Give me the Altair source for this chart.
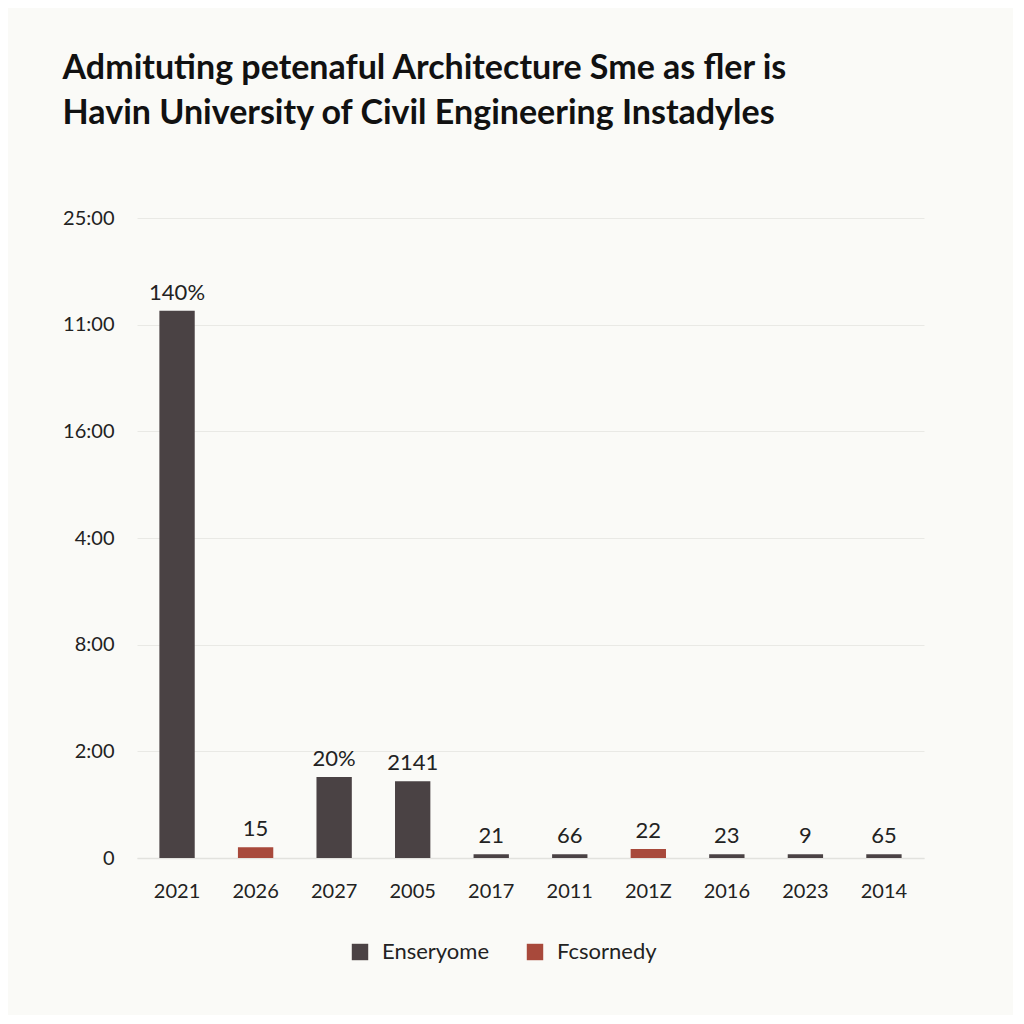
import altair as alt
import pandas as pd

years = ["2021", "2026", "2027", "2005", "2017", "2011", "201Z", "2016", "2023", "2014"]
values = [5.13, 0.10, 0.76, 0.72, 0.035, 0.035, 0.085, 0.035, 0.035, 0.035]
series = ["Enseryome", "Fcsornedy", "Enseryome", "Enseryome", "Enseryome",
          "Enseryome", "Fcsornedy", "Enseryome", "Enseryome", "Enseryome"]
bar_labels = ["140%", "15", "20%", "2141", "21", "66", "22", "23", "9", "65"]
y_tick_labels = ["0", "2:00", "8:00", "4:00", "16:00", "11:00", "25:00"]
series_names = ["Enseryome", "Fcsornedy"]
series_colors = ["#4a4244", "#a8493b"]

df = pd.DataFrame({"year": years, "value": values, "series": series, "label": bar_labels})

label_array = "[" + ",".join("'" + t + "'" for t in y_tick_labels) + "]"

x = alt.X("year:N", sort=None, title=None,
          scale=alt.Scale(paddingInner=0.55, paddingOuter=0.285),
          axis=alt.Axis(labelAngle=0, labelPadding=23, ticks=False, domain=True,
                        domainColor="#e2e2de", domainWidth=1.5))
y = alt.Y("value:Q", title=None,
          scale=alt.Scale(domain=[0, 6], nice=False),
          axis=alt.Axis(values=[0, 1, 2, 3, 4, 5, 6], labelExpr=label_array + "[datum.value]",
                        ticks=False, domain=False, labelPadding=23,
                        gridColor="#e9e9e5", gridWidth=1.2))

bars = alt.Chart(df).mark_bar().encode(
    x=x, y=y,
    color=alt.Color("series:N", title=None,
                    scale=alt.Scale(domain=series_names, range=series_colors),
                    legend=alt.Legend(orient="none", legendX=212, legendY=723,
                                      direction="horizontal",
                                      symbolType="square", symbolSize=270,
                                      symbolStrokeWidth=0, labelFontSize=22,
                                      labelFont="Lato", labelColor="#222222",
                                      columnPadding=34, labelOffset=11)),
)

text = alt.Chart(df).mark_text(baseline="alphabetic", dy=-11, fontSize=22,
                               font="Lato", color="#222222").encode(
    x=alt.X("year:N", sort=None), y="value:Q", text="label:N")

chart = alt.layer(bars, text).properties(
    width=787, height=640,
    title=alt.TitleParams(
        ["Admituting petenaful Architecture Sme as fler is",
         "Havin University of Civil Engineering Instadyles"],
        anchor="start", frame="bounds", fontSize=34, font="Lato", fontWeight=700,
        color="#111111", lineHeight=45, offset=77),
    padding={"left": 54, "top": 44, "right": 89, "bottom": 52},
    background="#fafaf7",
).configure_view(stroke=None).configure_axis(
    labelFont="Lato", labelFontSize=20, labelColor="#222222"
)

chart.save("out.html", embed_options={"renderer": "svg", "actions": False})
